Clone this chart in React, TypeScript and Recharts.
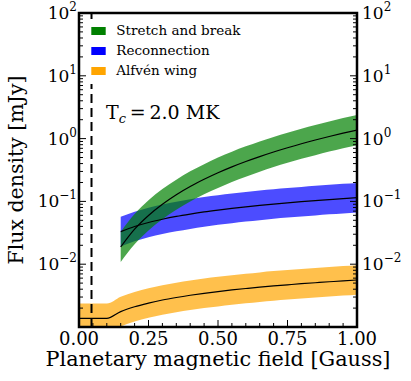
import { ComposedChart, Area, Line, XAxis, YAxis, ReferenceLine, ReferenceArea } from 'recharts'

// planetary field [G]
const field = [0, 0.05, 0.1, 0.15, 0.2, 0.25, 0.3, 0.35, 0.4, 0.45, 0.5, 0.55, 0.6, 0.65, 0.7, 0.75, 0.8, 0.85, 0.9, 0.95, 1.0]

// flux density [mJy]
const stretchMid = [null, null, null, 0.0188, 0.0361, 0.0597, 0.0902, 0.128, 0.173, 0.225, 0.286, 0.355, 0.432, 0.517, 0.612, 0.715, 0.828, 0.949, 1.08, 1.22, 1.37]
const stretchLo = [null, null, null, 0.0108, 0.0207, 0.0343, 0.0518, 0.0734, 0.0993, 0.13, 0.164, 0.204, 0.248, 0.297, 0.352, 0.411, 0.476, 0.545, 0.621, 0.701, 0.787]
const stretchHi = [null, null, null, 0.0327, 0.0628, 0.104, 0.157, 0.222, 0.301, 0.392, 0.498, 0.618, 0.752, 0.9, 1.065, 1.244, 1.441, 1.651, 1.879, 2.123, 2.384]

const reconMid = [null, null, null, 0.033, 0.0399, 0.0462, 0.052, 0.0576, 0.0628, 0.0679, 0.0727, 0.0774, 0.082, 0.0864, 0.0907, 0.0949, 0.099, 0.103, 0.107, 0.111, 0.115]
const reconLo = [null, null, null, 0.0192, 0.0232, 0.0269, 0.0302, 0.0335, 0.0365, 0.0395, 0.0423, 0.045, 0.0477, 0.0502, 0.0527, 0.0552, 0.0576, 0.0599, 0.0622, 0.0644, 0.0666]
const reconHi = [null, null, null, 0.0568, 0.0686, 0.0795, 0.0894, 0.0991, 0.108, 0.117, 0.125, 0.133, 0.141, 0.149, 0.156, 0.163, 0.17, 0.177, 0.184, 0.191, 0.197]

const alfvenMid = [0.00137, 0.00137, 0.00137, 0.00176, 0.0021, 0.0024, 0.00269, 0.00295, 0.0032, 0.00344, 0.00367, 0.00389, 0.0041, 0.00431, 0.00451, 0.0047, 0.00489, 0.00507, 0.00525, 0.00543, 0.0056]
const alfvenLo = [0.0008, 0.0008, 0.0008, 0.00102, 0.00122, 0.0014, 0.00156, 0.00172, 0.00186, 0.002, 0.00213, 0.00226, 0.00238, 0.00251, 0.00262, 0.00273, 0.00284, 0.00295, 0.00305, 0.00316, 0.00326]
const alfvenHi = [0.00236, 0.00236, 0.00236, 0.00303, 0.00361, 0.00413, 0.00463, 0.00507, 0.0055, 0.00592, 0.00631, 0.00669, 0.00705, 0.00741, 0.00776, 0.00808, 0.00841, 0.00872, 0.00903, 0.00934, 0.00963]

const legendNames = ['Stretch and break', 'Reconnection', 'Alfvén wing']
const legendColors = ['#008000', '#0000ff', '#ffa500']

const xTicks = [0, 0.05, 0.1, 0.15, 0.2, 0.25, 0.3, 0.35, 0.4, 0.45, 0.5, 0.55, 0.6, 0.65, 0.7, 0.75, 0.8, 0.85, 0.9, 0.95, 1.0]
const xMajor = [0, 0.25, 0.5, 0.75, 1.0]
const decades = [-3, -2, -1, 0, 1, 2]
const labelledDecades = [-2, -1, 0, 1, 2]
const tcValue = 2.0

const yTicks: number[] = []
decades.forEach((e) => {
  yTicks.push(Math.pow(10, e))
  if (e < 2) for (let k = 2; k < 10; k++) yTicks.push(k * Math.pow(10, e))
})

const data = field.map((b, i) => ({
  b,
  stretch: stretchLo[i] == null ? null : [stretchLo[i], stretchHi[i]],
  stretchMid: stretchMid[i],
  recon: reconLo[i] == null ? null : [reconLo[i], reconHi[i]],
  reconMid: reconMid[i],
  alfven: [alfvenLo[i], alfvenHi[i]],
  alfvenMid: alfvenMid[i],
}))

const FONT = '"DejaVu Serif", serif'

const isDecade = (v: number) => Math.abs(Math.log10(v) - Math.round(Math.log10(v))) < 1e-6
const hasLabel = (v: number) => isDecade(v) && labelledDecades.includes(Math.round(Math.log10(v)))
const expText = (v: number) => {
  const e = Math.round(Math.log10(v))
  return e < 0 ? '\u2212' + Math.abs(e) : String(e)
}

const LeftTick = (props: any) => {
  const { x, y, payload } = props
  const v = payload.value
  const major = isDecade(v)
  const ax = x + 2
  return (
    <g>
      <line x1={ax} x2={ax + (major ? 7 : 4)} y1={y} y2={y} stroke="#000" strokeWidth={1} />
      {hasLabel(v) && (
        <text x={x} y={y + 6} textAnchor="end" fontSize={17} fontFamily={FONT} fill="#000">
          10<tspan dy={-8} fontSize={12}>{expText(v)}</tspan>
        </text>
      )}
    </g>
  )
}

const RightTick = (props: any) => {
  const { x, y, payload } = props
  const v = payload.value
  const major = isDecade(v)
  const ax = x - 5
  return (
    <g>
      <line x1={ax} x2={ax - (major ? 7 : 4)} y1={y} y2={y} stroke="#000" strokeWidth={1} />
      {hasLabel(v) && (
        <text x={x} y={y + 6} textAnchor="start" fontSize={17} fontFamily={FONT} fill="#000">
          10<tspan dy={-8} fontSize={12}>{expText(v)}</tspan>
        </text>
      )}
    </g>
  )
}

const BottomTick = (props: any) => {
  const { x, y, payload } = props
  const v = payload.value
  const major = xMajor.some((m) => Math.abs(m - v) < 1e-6)
  const ay = y - 18
  return (
    <g>
      <line x1={x} x2={x} y1={ay} y2={ay - (major ? 7 : 4)} stroke="#000" strokeWidth={1} />
      {major && (
        <text x={x} y={y} textAnchor="middle" fontSize={18} fontFamily={FONT} fill="#000">
          {v.toFixed(2)}
        </text>
      )}
    </g>
  )
}

export default function App() {
  return (
    <div style={{ position: 'absolute', left: 0, top: 0, width: 411, height: 381, background: '#fff', fontFamily: FONT }}>
      <ComposedChart width={411} height={381} data={data} margin={{ top: 13, right: 0, bottom: 0, left: 0 }}>
        <XAxis
          dataKey="b"
          type="number"
          domain={[0, 1]}
          ticks={xTicks}
          interval={0}
          allowDataOverflow
          height={54}
          axisLine={false}
          tickLine={false}
          tickSize={0}
          tickMargin={18}
          tick={BottomTick}
          label={{ value: 'Planetary magnetic field [Gauss]', position: 'insideBottom', offset: 15, fontSize: 20.8, fill: '#000', fontFamily: FONT }}
        />
        <YAxis
          yAxisId="left"
          scale="log"
          type="number"
          domain={[1e-3, 1e2]}
          ticks={yTicks}
          interval={0}
          allowDataOverflow
          width={79}
          axisLine={false}
          tickLine={false}
          tickSize={0}
          tickMargin={2}
          tick={LeftTick}
          label={{ value: 'Flux density [mJy]', angle: -90, position: 'insideLeft', offset: 16, fontSize: 20.5, fill: '#000', fontFamily: FONT, style: { textAnchor: 'middle' } }}
        />
        <YAxis
          yAxisId="right"
          orientation="right"
          scale="log"
          type="number"
          domain={[1e-3, 1e2]}
          ticks={yTicks}
          interval={0}
          allowDataOverflow
          width={54}
          axisLine={false}
          tickLine={false}
          tickSize={0}
          tickMargin={5}
          tick={RightTick}
        />
        <Area yAxisId="left" dataKey="alfven" type="monotone" stroke="none" fill="#ffa500" fillOpacity={0.7} isAnimationActive={false} />
        <Area yAxisId="left" dataKey="recon" type="monotone" stroke="none" fill="#0000ff" fillOpacity={0.7} isAnimationActive={false} />
        <Area yAxisId="left" dataKey="stretch" type="monotone" stroke="none" fill="#008000" fillOpacity={0.7} isAnimationActive={false} />
        <Line yAxisId="left" dataKey="alfvenMid" type="monotone" stroke="#000" strokeWidth={1.2} dot={false} isAnimationActive={false} />
        <Line yAxisId="left" dataKey="reconMid" type="monotone" stroke="#000" strokeWidth={1.2} dot={false} isAnimationActive={false} />
        <Line yAxisId="left" dataKey="stretchMid" type="monotone" stroke="#000" strokeWidth={1.2} dot={false} isAnimationActive={false} />
        <ReferenceLine yAxisId="left" x={0.045} stroke="#000" strokeWidth={2} strokeDasharray="9 5" />
        <ReferenceArea yAxisId="left" x1={0} x2={1} y1={1e-3} y2={1e2} fill="none" fillOpacity={0} stroke="#000" strokeWidth={2.5} ifOverflow="visible" />
      </ComposedChart>
      <svg width={411} height={381} style={{ position: 'absolute', left: 0, top: 0, pointerEvents: 'none' }}>
        <rect x={86} y={20} width={160} height={64} fill="#fff" />
        {legendNames.map((name, i) => (
          <g key={name}>
            <rect x={91.3} y={27 + i * 20} width={14.4} height={8} fill={legendColors[i]} />
            <text x={116.3} y={35.3 + i * 20} fontSize={13.5} fontFamily={FONT} fill="#000">
              {name}
            </text>
          </g>
        ))}
        <text x={106} y={119} fontSize={19} fontFamily={FONT} fill="#000">
          T<tspan dy={4} fontSize={13} fontStyle="italic">c</tspan>
          <tspan dy={-4}>{'\u2009=\u2009' + tcValue.toFixed(1) + ' MK'}</tspan>
        </text>
      </svg>
    </div>
  )
}
